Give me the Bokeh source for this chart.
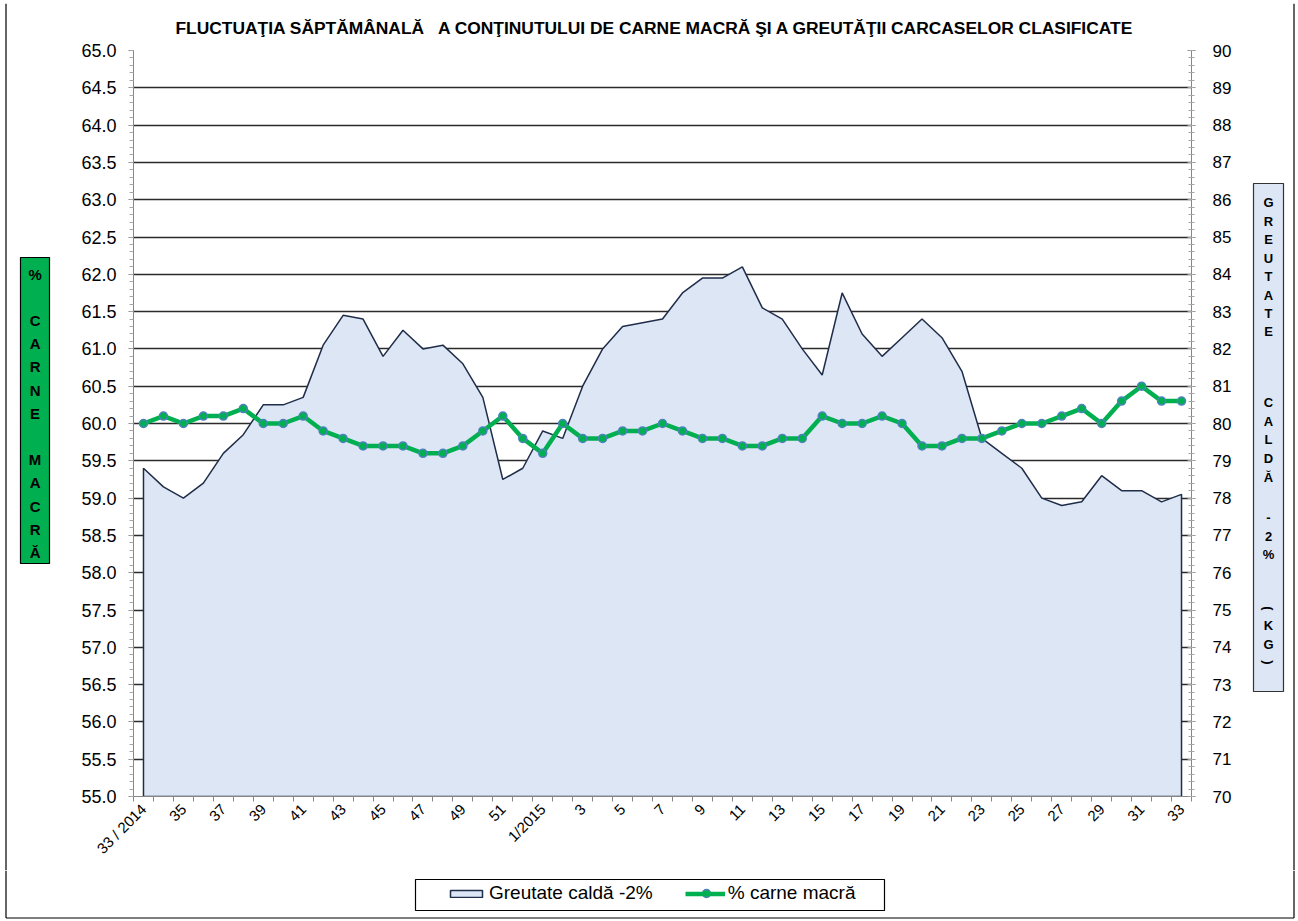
import math
from bokeh.plotting import figure
from bokeh.layouts import column, row
from bokeh.models import (Range1d, LinearAxis, FixedTicker, SingleIntervalTicker,
                          Legend, LegendItem, NumeralTickFormatter)
from bokeh.embed import file_html
from bokeh.resources import INLINE
from bokeh.core.properties import value

# ---------------- data ----------------
weeks = ["33 / 2014", "34", "35", "36", "37", "38", "39", "40", "41", "42", "43", "44",
         "45", "46", "47", "48", "49", "50", "51", "52", "1/2015", "2", "3", "4", "5",
         "6", "7", "8", "9", "10", "11", "12", "13", "14", "15", "16", "17", "18", "19",
         "20", "21", "22", "23", "24", "25", "26", "27", "28", "29", "30", "31", "32", "33"]

greutate = [78.8, 78.3, 78.0, 78.4, 79.2, 79.7, 80.5, 80.5, 80.7, 82.1, 82.9, 82.8,
            81.8, 82.5, 82.0, 82.1, 81.6, 80.7, 78.5, 78.8, 79.8, 79.6, 81.0, 82.0,
            82.6, 82.7, 82.8, 83.5, 83.9, 83.9, 84.2, 83.1, 82.8, 82.0, 81.3, 83.5,
            82.4, 81.8, 82.3, 82.8, 82.3, 81.4, 79.6, 79.2, 78.8, 78.0, 77.8, 77.9,
            78.6, 78.2, 78.2, 77.9, 78.1]

carne = [60.0, 60.1, 60.0, 60.1, 60.1, 60.2, 60.0, 60.0, 60.1, 59.9, 59.8, 59.7,
         59.7, 59.7, 59.6, 59.6, 59.7, 59.9, 60.1, 59.8, 59.6, 60.0, 59.8, 59.8,
         59.9, 59.9, 60.0, 59.9, 59.8, 59.8, 59.7, 59.7, 59.8, 59.8, 60.1, 60.0,
         60.0, 60.1, 60.0, 59.7, 59.7, 59.8, 59.8, 59.9, 60.0, 60.0, 60.1, 60.2,
         60.0, 60.3, 60.5, 60.3, 60.3]

title_text = ("FLUCTUAŢIA SĂPTĂMÂNALĂ \u00a0 A CONŢINUTULUI DE CARNE MACRĂ "
              "ŞI A GREUTĂŢII CARCASELOR CLASIFICATE")
left_title = "% CARNE MACRĂ"
right_title = "GREUTATE CALDĂ - 2% (KG)"
legend_area = "Greutate caldă -2%"
legend_line = "% carne macră"

# ---------------- layout (image px) ----------------
FONT = "Liberation Sans"
TOTAL_W, TOTAL_H = 1296, 919
TOP_H = 3
MID_Y0, MID_Y1 = TOP_H, 870
LEFT_W, MAIN_X1 = 60, 1240
FL, FT, FW, FH = 133, 50, 1058, 746
BX0, BX1, BY0, BY1 = 5.5, 1293.5, 1.5, 917.5      # outer chart border
AREA_FILL, AREA_LINE = "#DDE6F4", "#1F2D4A"
GREEN, BLUE = "#00B050", "#4F81BD"
AX = "#868686"
OUT = -10000.0   # off-canvas position for legend proxies
LEG_MARK = (706, 893)   # centre of the line glyph in the legend

idx = list(range(len(weeks)))


def deco(x0, x1, y0, y1):
    f = figure(width=x1 - x0, height=y1 - y0, x_range=Range1d(x0, x1),
               y_range=Range1d(y1, y0), min_border=0, output_backend="svg",
               toolbar_location=None, x_axis_type=None, y_axis_type=None,
               background_fill_color="white", border_fill_color="white",
               frame_align=False)
    f.outline_line_color = None
    return f


def stacked(f, text, cx, ys, size):
    chars = [c for c in text if c != " "]
    f.text(x=[cx] * len(chars), y=ys, text=chars,
           angle=[-math.pi / 2 if c in "()" else 0 for c in chars],
           text_font=value(FONT), text_font_size=value(size), text_font_style="bold",
           text_color="black", text_align="center", text_baseline="middle")


# ---------------- main chart ----------------
p = figure(frame_width=FW, frame_height=FH,
           min_border_left=FL - LEFT_W, min_border_right=MAIN_X1 - FL - FW,
           min_border_top=FT - MID_Y0, min_border_bottom=MID_Y1 - FT - FH,
           x_range=Range1d(-0.5, len(weeks) - 0.5), y_range=Range1d(55.0, 65.0),
           output_backend="svg", toolbar_location=None, frame_align=False,
           background_fill_color="white", border_fill_color="white")
p.outline_line_color = None
p.extra_y_ranges = {"kg": Range1d(70.0, 90.0)}

p.title.text = title_text
p.title.text_font = FONT
p.title.text_font_size = "17.4px"
p.title.text_font_style = "bold"
p.title.text_color = "black"
p.title.align = "left"
p.title.offset = 175 - FL
p.title.standoff = 25

xa = p.xaxis[0]
xa.ticker = FixedTicker(ticks=idx[::2], minor_ticks=[i - 0.5 for i in range(len(weeks) + 1)])
xa.major_label_overrides = {i: weeks[i] for i in idx[::2]}
xa.major_label_orientation = math.pi / 4
xa.major_label_text_font = FONT
xa.major_label_text_font_size = "15px"
xa.major_label_text_color = "black"
xa.major_label_standoff = 5
xa.major_tick_out = 0
xa.major_tick_in = 0
xa.minor_tick_out = 5
xa.minor_tick_in = 0
xa.minor_tick_line_color = AX
xa.axis_line_color = AX

ya = p.yaxis[0]
ya.ticker = SingleIntervalTicker(interval=0.5, num_minor_ticks=5)
ya.formatter = NumeralTickFormatter(format="0.0")
ya.major_label_text_font = FONT
ya.major_label_text_font_size = "18px"
ya.major_label_text_color = "black"
ya.major_label_standoff = 12
ya.major_tick_out = 5
ya.major_tick_in = 0
ya.minor_tick_out = 4
ya.minor_tick_in = 0
ya.major_tick_line_color = AX
ya.minor_tick_line_color = "#a6a6a6"
ya.axis_line_color = AX

ra = LinearAxis(y_range_name="kg",
                ticker=SingleIntervalTicker(interval=1, num_minor_ticks=5))
ra.major_label_text_font = FONT
ra.major_label_text_font_size = "17px"
ra.major_label_text_color = "black"
ra.major_label_standoff = 17
ra.major_tick_out = 4
ra.major_tick_in = 4
ra.minor_tick_out = 3
ra.minor_tick_in = 3
ra.major_tick_line_color = AX
ra.minor_tick_line_color = "#a6a6a6"
ra.axis_line_color = AX
p.add_layout(ra, "right")

p.xgrid.visible = False
p.ygrid.ticker = SingleIntervalTicker(interval=0.5)
p.ygrid.grid_line_color = "#2b2b2b"
p.ygrid.grid_line_width = 1.5

area_x = [idx[0]] + idx + [idx[-1]]
area_y = [70.0] + greutate + [70.0]
p.patch(area_x, area_y, y_range_name="kg", fill_color=AREA_FILL,
        line_color=AREA_LINE, line_width=1.5)
p.line(idx, carne, line_color=GREEN, line_width=4.5)
p.scatter(idx, carne, size=8, fill_color=GREEN, line_color=BLUE, line_width=1.5)

# ---------------- top strip (border) ----------------
top = deco(0, TOTAL_W, 0, TOP_H)
top.segment(x0=[BX0, BX0, BX1], y0=[BY0, BY0, BY0], x1=[BX1, BX0, BX1], y1=[BY0, TOP_H, TOP_H],
            line_color="black", line_width=1.2)

# ---------------- left strip ----------------
lf = deco(0, LEFT_W, MID_Y0, MID_Y1)
lf.segment(x0=[BX0], y0=[MID_Y0], x1=[BX0], y1=[MID_Y1], line_color="black", line_width=1.2)
lf.quad(left=[20], right=[49], top=[257], bottom=[563], fill_color=GREEN,
        line_color="black", line_width=1.2)
stacked(lf, left_title, 34.6,
        [274, 320, 343.2, 366.4, 389.6, 412.8, 459.2, 482.4, 505.6, 528.8, 552], "15px")

# ---------------- right strip ----------------
rf = deco(MAIN_X1, TOTAL_W, MID_Y0, MID_Y1)
rf.segment(x0=[BX1], y0=[MID_Y0], x1=[BX1], y1=[MID_Y1], line_color="black", line_width=1.2)
rf.quad(left=[1253], right=[1283], top=[183], bottom=[691], fill_color=AREA_FILL,
        line_color="#333333", line_width=1.2)
stacked(rf, right_title, 1268,
        [202, 221, 239, 258, 276, 295, 313, 331,
         402, 421, 439, 458, 477,
         517, 536, 554,
         608, 625, 644, 662], "13px")

# ---------------- bottom strip (legend) ----------------
bf = deco(0, TOTAL_W, MID_Y1, TOTAL_H)
bf.segment(x0=[BX0, BX1, BX0], y0=[MID_Y1, MID_Y1, BY1], x1=[BX0, BX1, BX1], y1=[BY1, BY1, BY1],
           line_color="black", line_width=1.2)
bf.quad(left=[415], right=[884], top=[879], bottom=[910], fill_alpha=0,
        line_color="black", line_width=1.2)
proxy_area = bf.patch([OUT, OUT + 1, OUT], [OUT, OUT, OUT + 1], fill_color=AREA_FILL,
                      line_color=AREA_LINE, line_width=1.5)
proxy_line = bf.line([OUT, OUT + 1], [OUT, OUT], line_color=GREEN, line_width=4.5)
legend = Legend(items=[LegendItem(label=legend_area, renderers=[proxy_area]),
                       LegendItem(label=legend_line, renderers=[proxy_line])],
                orientation="horizontal", location=(446, 15),
                border_line_alpha=0, background_fill_alpha=0, padding=0, margin=0,
                spacing=32, glyph_width=40, glyph_height=9, label_standoff=3,
                label_text_font=FONT, label_text_font_size="19px",
                label_text_color="black", label_height=18)
bf.add_layout(legend, "center")
# legend marker drawn on top of the legend's line glyph
bf.scatter([LEG_MARK[0]], [LEG_MARK[1]], size=8, fill_color=GREEN, line_color=BLUE,
           line_width=1.5, level="overlay")

layout = column(top, row(lf, p, rf), bf)
open("out.html", "w").write(file_html(layout, INLINE))
